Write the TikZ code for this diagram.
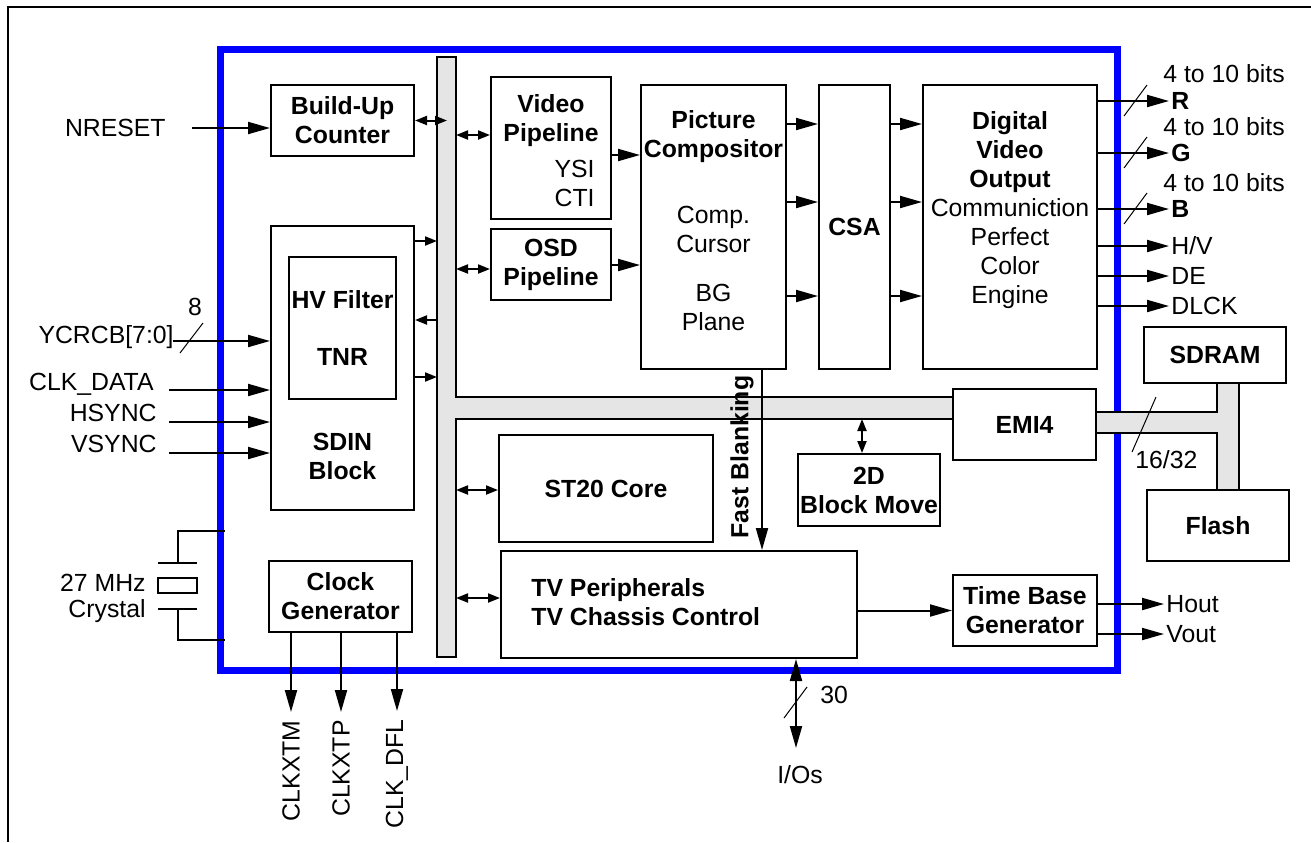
\documentclass[tikz,border=0pt]{standalone}
\usepackage{fontspec}
\setmainfont{Liberation Sans}
\usepackage{tikz}
\usetikzlibrary{arrows.meta}
\definecolor{chipblue}{RGB}{0,0,255}
\definecolor{busgray}{RGB}{229,229,229}
\newcommand{\diagfont}{\fontsize{12.4}{14.5}\selectfont}

\begin{document}
\begin{tikzpicture}[x=0.5pt,y=-0.5pt,
    box/.style={draw,line width=1pt,inner sep=0pt,align=center,font=\diagfont\bfseries},
    lbl/.style={inner sep=1pt,align=center,font=\diagfont},
    blbl/.style={inner sep=1pt,align=center,font=\diagfont\bfseries},
    ar/.style={-{Triangle[length=11pt,width=6pt]},line width=1pt},
    bar/.style={{Triangle[length=11pt,width=6pt]}-{Triangle[length=11pt,width=6pt]},line width=1pt},
    sar/.style={-{Triangle[length=6pt,width=4.5pt]},line width=1pt},
    bsar/.style={{Triangle[length=6pt,width=4.5pt]}-{Triangle[length=6pt,width=4.5pt]},line width=1pt},
    bus/.style={draw,fill=busgray,line width=1pt},
    tick/.style={line width=0.5pt},
    wire/.style={line width=1pt}]
  \useasboundingbox (0,0) rectangle (1311,842);
  % page frame
  \draw[wire] (8,842) -- (8,7) -- (1311,7);
  % chip outline
  \draw[chipblue,line width=3.5pt] (220,49) rectangle (1117,670);
  % internal bus and memory bus
  \draw[bus] (437,57) -- (456,57) -- (456,397) -- (953,397) -- (953,419) -- (456,419) -- (456,657) -- (437,657) -- cycle;
  \draw[bus] (1096,412) -- (1217,412) -- (1217,383) -- (1239,383) -- (1239,490) -- (1217,490) -- (1217,433) -- (1096,433) -- cycle;

  % blocks
  \node[box,minimum width=71.5pt,minimum height=35.5pt] (buc) at (342.5,120.5) {Build-Up\\Counter};
  \node[box,minimum width=71.5pt,minimum height=142pt] (sdin) at (342.5,368) {};
  \node[box,minimum width=53.5pt,minimum height=71pt] (hvf) at (342.5,328) {HV Filter\\[14pt]TNR};
  \node[blbl] (sdintxt) at (342.5,456.5) {SDIN\\Block};
  \node[box,minimum width=71.5pt,minimum height=35.5pt] (cg) at (340.5,596.5) {Clock\\Generator};
  \node[box,minimum width=60pt,minimum height=71pt] (vp) at (551,148) {};
  \node[blbl] (vptitle) at (551,121) {Video\\Pipeline};
  \node[lbl,align=right,anchor=east] (vpsub) at (597,183.5) {YSI\\CTI};
  \node[box,minimum width=60pt,minimum height=35.5pt] (osd) at (551,264.5) {OSD\\Pipeline};
  \node[box,minimum width=72.5pt,minimum height=142pt] (pc) at (713.5,227) {};
  \node[blbl] (pctitle) at (713.5,137) {Picture\\Compositor};
  \node[lbl] (pcmid) at (713.5,229) {Comp.\\Cursor};
  \node[lbl] (pcbot) at (713.5,307.5) {BG\\Plane};
  \node[box,minimum width=35.5pt,minimum height=142pt] (csa) at (854.5,227) {CSA};
  \node[box,minimum width=87pt,minimum height=142pt] (dvo) at (1010,227) {};
  \node[lbl] (dvotxt) at (1010,210) {\textbf{Digital}\\\textbf{Video}\\\textbf{Output}\\Communiction\\Perfect\\Color\\Engine};
  \node[box,minimum width=71pt,minimum height=28pt] (sdram) at (1215,355) {SDRAM};
  \node[box,minimum width=71.5pt,minimum height=35.5pt] (emi) at (1024.5,424.5) {EMI4};
  \node[box,minimum width=71pt,minimum height=35.5pt] (flash) at (1218,525.5) {Flash};
  \node[box,minimum width=107pt,minimum height=53.5pt] (st20) at (606,488.5) {ST20 Core};
  \node[box,minimum width=71pt,minimum height=36pt] (bm) at (869,490) {2D\\Block Move};
  \node[box,minimum width=178pt,minimum height=53.5pt] (tvp) at (679,604.5) {};
  \node[blbl,align=left,anchor=west] (tvptxt) at (529,602) {TV Peripherals\\TV Chassis Control};
  \node[box,minimum width=72pt,minimum height=35.5pt] (tbg) at (1025,610.5) {Time Base\\Generator};

  % inputs
  \node[lbl,anchor=east] (nreset) at (168,128) {NRESET};
  \coordinate (nrin) at (192,128);
  \draw[ar] (nrin) -- (nrin -| buc.west);
  \node[lbl,anchor=east] (ycrcb) at (176,337) {YCRCB[7:0]};
  \coordinate (ycin) at (173,341);
  \draw[ar] (ycin) -- (ycin -| sdin.west);
  \draw[tick] (180,353) -- (203,323);
  \node[lbl] (ycwidth) at (195,307) {8};
  \node[lbl,anchor=east] (clkdata) at (156,384) {CLK\_DATA};
  \coordinate (clkin) at (169,390);
  \draw[ar] (clkin) -- (clkin -| sdin.west);
  \node[lbl,anchor=east] (hsync) at (159,413) {HSYNC};
  \coordinate (hsin) at (169,422);
  \draw[ar] (hsin) -- (hsin -| sdin.west);
  \node[lbl,anchor=east] (vsync) at (159,444) {VSYNC};
  \coordinate (vsin) at (169,453);
  \draw[ar] (vsin) -- (vsin -| sdin.west);

  % crystal
  \draw[wire] (225,531) -- (178,531) -- (178,563);
  \draw[wire] (158,563) -- (197,563);
  \draw[wire] (158,578) rectangle (197,593);
  \draw[wire] (158,609) -- (197,609);
  \draw[wire] (178,609) -- (178,640) -- (225,640);
  \node[lbl,anchor=east] (xtalf) at (148,583) {27 MHz};
  \node[lbl,anchor=east] (xtal) at (148,611) {Crystal};

  % clock outputs
  \node[lbl,rotate=90,anchor=east] (clkxtm) at (291,718) {CLKXTM};
  \node[lbl,rotate=90,anchor=east] (clkxtp) at (341,718) {CLKXTP};
  \node[lbl,rotate=90,anchor=east] (clkdfl) at (397,717) {CLK\_DFL};
  \foreach \n in {clkxtm,clkxtp,clkdfl}
    \draw[ar,shorten >=3pt] (\n.east |- cg.south) -- (\n.east);

  % bus links
  \coordinate (bucbus) at (447,120.5);
  \draw[bsar] (buc.east) -- (bucbus);
  \coordinate (sdbus1) at (437,241);
  \coordinate (sdbus2) at (437,320);
  \coordinate (sdbus3) at (437,377);
  \draw[sar] (sdbus1 -| sdin.east) -- (sdbus1);
  \draw[sar] (sdbus2) -- (sdbus2 -| sdin.east);
  \draw[sar] (sdbus3 -| sdin.east) -- (sdbus3);
  \coordinate (vpbus) at (456,135);
  \coordinate (osdbus) at (456,269);
  \coordinate (st20bus) at (456,490);
  \coordinate (tvpbus) at (456,598);
  \draw[bsar] (vpbus) -- (vpbus -| vp.west);
  \draw[bsar] (osdbus) -- (osdbus -| osd.west);
  \draw[bsar] (st20bus) -- (st20bus -| st20.west);
  \draw[bsar] (tvpbus) -- (tvpbus -| tvp.west);
  \coordinate (bmbus) at (862,419);
  \draw[bsar] (bmbus) -- (bmbus |- bm.north);

  % video path
  \draw[ar] (vp.east |- 0,155) -- (pc.west |- 0,155);
  \draw[ar] (osd.east |- 0,265) -- (pc.west |- 0,265);
  \foreach \yy in {124,202,296} {
    \draw[ar] (pc.east |- 0,\yy) -- (csa.west |- 0,\yy);
    \draw[ar] (csa.east |- 0,\yy) -- (dvo.west |- 0,\yy);
  }

  % video outputs
  \node[blbl,anchor=west] (rout) at (1169,101) {R};
  \node[blbl,anchor=west] (gout) at (1169,153) {G};
  \node[blbl,anchor=west] (bout) at (1169,209) {B};
  \node[lbl,anchor=west] (rbits) at (1161,74) {4 to 10 bits};
  \node[lbl,anchor=west] (gbits) at (1161,127) {4 to 10 bits};
  \node[lbl,anchor=west] (bbits) at (1161,183) {4 to 10 bits};
  \node[lbl,anchor=west] (hvout) at (1169,246) {H/V};
  \node[lbl,anchor=west] (deout) at (1169,276) {DE};
  \node[lbl,anchor=west] (dlck) at (1169,306) {DLCK};
  \foreach \n in {rout,gout,bout,hvout,deout,dlck}
    \draw[ar] (\n -| dvo.east) -- (\n);
  \draw[tick] (1124,116) -- (1147,85);
  \draw[tick] (1124,168) -- (1147,137);
  \draw[tick] (1124,224) -- (1147,193);

  % memory
  \draw[tick] (1132,452) -- (1156,397);
  \node[lbl,anchor=west] (memwidth) at (1133,460) {16/32};

  % fast blanking
  \coordinate (fbx) at (762,369);
  \draw[ar] (fbx) -- (fbx |- tvp.north);
  \node[blbl,rotate=90] (fblank) at (742,457) {Fast Blanking};

  % timing and I/O
  \draw[ar] (tvp.east |- tbg) -- (tbg.west);
  \node[lbl,anchor=west] (hout) at (1164,604) {Hout};
  \node[lbl,anchor=west] (vout) at (1164,634) {Vout};
  \draw[ar] (hout -| tbg.east) -- (hout);
  \draw[ar] (vout -| tbg.east) -- (vout);
  \coordinate (ioend) at (796,748);
  \draw[bar] (ioend |- tvp.south) -- (ioend);
  \draw[tick] (784,718) -- (807,687);
  \node[lbl,anchor=west] (iowidth) at (818,695) {30};
  \node[lbl] (ios) at (800,775) {I/Os};
\end{tikzpicture}
\end{document}
